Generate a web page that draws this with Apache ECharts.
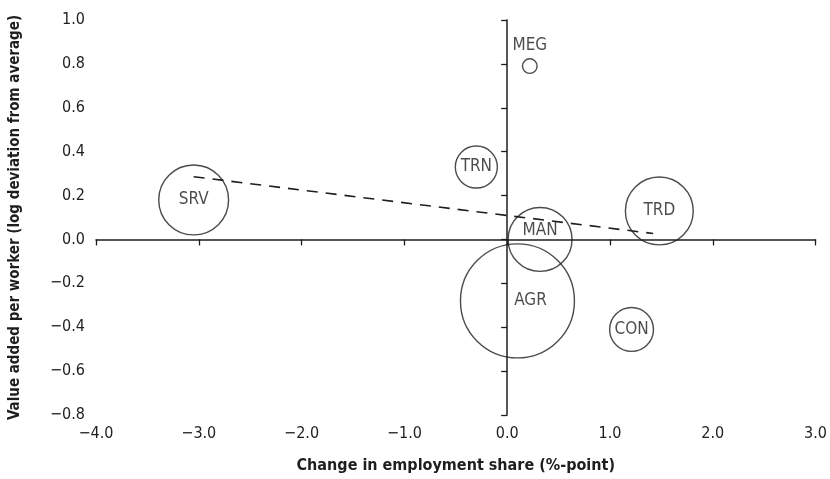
<!DOCTYPE html>
<html>
<head>
<meta charset="utf-8">
<script src="https://cdn.jsdelivr.net/npm/echarts@6/dist/echarts.min.js"></script>
<style>
  html, body { margin: 0; padding: 0; background: #fff; }
  #chart { width: 830px; height: 479px; }
</style>
</head>
<body>
<div id="chart"></div>
<script>
// Sectors
const sectors = ['SRV', 'TRN', 'MEG', 'MAN', 'AGR', 'TRD', 'CON'];
// Change in employment share (%-point)
const changeShare = [-3.05, -0.30, 0.22, 0.32, 0.10, 1.48, 1.21];
// Value added per worker (log deviation from average)
const valueAdded = [0.18, 0.33, 0.79, 0.00, -0.28, 0.13, -0.41];
// Employment share (bubble size, %)
const empShare = [16.0, 5.8, 0.7, 13.4, 42.6, 15.1, 6.3];
// Fitted trend line end points
const trendX = [-3.05, 1.42];
const trendY = [0.286, 0.027];

const FONT = '"Liberation Sans Narrow", "DejaVu Sans Condensed", "Arial Narrow", sans-serif';
const INK = '#1e1e1e';

const labelStyle = {
  MEG: { position: 'top', distance: 4 },
  AGR: { position: 'inside', offset: [13, 0] },
  MAN: { position: 'inside', offset: [0, -9] }
};

const bubbleData = sectors.map((name, i) => {
  const ls = labelStyle[name] || { position: 'inside' };
  return {
    name: name,
    value: [changeShare[i], valueAdded[i], empShare[i]],
    label: Object.assign({}, ls)
  };
});

const fmt = (v, d) => {
  const s = Math.abs(v).toFixed(d);
  return (v < -1e-9 ? '\u2212' : '') + s;
};

const chart = echarts.init(document.getElementById('chart'), null, { renderer: 'canvas' });
chart.setOption({
  animation: false,
  backgroundColor: '#fff',
  grid: { left: 93, right: 14, top: 20, bottom: 62, containLabel: false },
  xAxis: {
    type: 'value',
    min: -4, max: 3, interval: 1,
    position: 'bottom',
    name: 'Change in employment share (%-point)',
    nameLocation: 'middle',
    nameGap: 43,
    nameTextStyle: { fontFamily: FONT, fontWeight: 'bold', fontSize: 16, color: INK },
    axisLine: { onZero: true, lineStyle: { color: INK, width: 1.5 } },
    axisTick: { show: true, length: 6, lineStyle: { color: INK, width: 1.3 } },
    axisLabel: { margin: 11, fontFamily: FONT, fontSize: 16, color: INK, formatter: v => fmt(v, 1) },
    splitLine: { show: false }
  },
  yAxis: {
    type: 'value',
    min: -0.8, max: 1.0, interval: 0.2,
    position: 'left',
    name: 'Value added per worker (log deviation from average)',
    nameLocation: 'middle',
    nameGap: 73,
    nameTextStyle: { fontFamily: FONT, fontWeight: 'bold', fontSize: 15, color: INK },
    axisLine: { onZero: true, lineStyle: { color: INK, width: 1.5 } },
    axisTick: { show: true, length: 6, lineStyle: { color: INK, width: 1.3 } },
    axisLabel: { margin: 11, fontFamily: FONT, fontSize: 16, color: INK, formatter: v => fmt(v, 1) },
    splitLine: { show: false }
  },
  series: [
    {
      type: 'line',
      data: trendX.map((x, i) => [x, trendY[i]]),
      symbol: 'none',
      lineStyle: { color: INK, width: 1.6, type: [11, 8] },
      z: 3
    },
    {
      type: 'scatter',
      data: bubbleData,
      symbol: 'circle',
      symbolSize: d => 17.46 * Math.sqrt(d[2]),
      itemStyle: { color: 'rgba(0,0,0,0)', borderColor: INK, borderWidth: 1.4 },
      label: {
        show: true,
        formatter: p => p.name,
        fontFamily: FONT,
        fontSize: 17,
        color: INK
      },
      emphasis: { disabled: true },
      z: 4
    }
  ]
});
</script>
</body>
</html>
